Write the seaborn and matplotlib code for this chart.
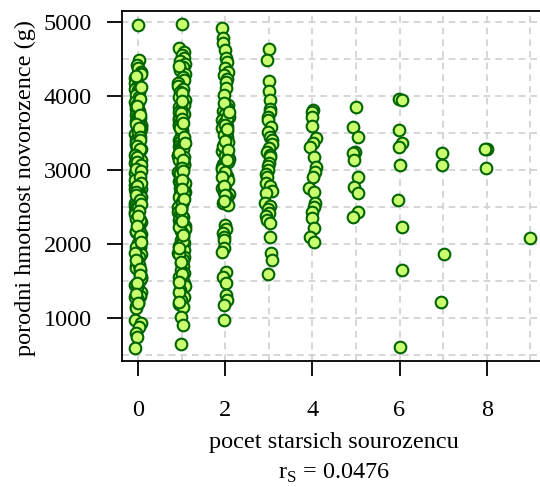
import numpy as np
import pandas as pd
import seaborn as sns
import matplotlib
matplotlib.use("Agg")
import matplotlib.pyplot as plt
import matplotlib.transforms as mtransforms

# porodni hmotnost (g) podle poctu starsich sourozencu
w0 = [4960, 4490, 4420, 4380, 4330, 4300, 4250, 4210, 4180, 4150, 4100, 4080, 4050, 4010,
      3990, 3950, 3920, 3900, 3870, 3850, 3830, 3800, 3780, 3750, 3730, 3700, 3690, 3660,
      3640, 3610, 3600, 3580, 3550, 3530, 3500, 3490, 3470, 3440, 3420, 3400, 3380, 3350,
      3340, 3310, 3300, 3280, 3250, 3230, 3200, 3190, 3170, 3150, 3120, 3100, 3080, 3060,
      3040, 3010, 3000, 2980, 2950, 2930, 2900, 2880, 2850, 2820, 2800, 2770, 2750, 2720,
      2700, 2680, 2650, 2610, 2580, 2550, 2520, 2490, 2460, 2430, 2400, 2370, 2340, 2300,
      2270, 2230, 2200, 2160, 2130, 2090, 2050, 2010, 1980, 1940, 1900, 1860, 1820, 1780,
      1750, 1710, 1680, 1640, 1600, 1560, 1520, 1490, 1450, 1400, 1350, 1300, 1250, 1200,
      1160, 1130, 980, 940, 880, 800, 750, 600,
      4270, 3960, 3710, 3520, 3360, 3260, 3140, 3050, 2960, 2860, 2740, 2630, 2500, 2320,
      2180, 1960, 1720, 1540, 1420, 1280,
      4120, 3860, 3740, 3620, 3570, 3450, 3410, 3330, 3290, 3210, 3180, 3110, 3070, 3020,
      2990, 2910, 2830, 2790, 2710, 2660, 2590, 2540, 2450, 2380, 2250, 2110, 2030, 1880,
      1790, 1660, 1580, 1480, 1330, 1210]
w1 = [4970, 4650, 4600, 4560, 4520, 4480, 4430, 4390, 4350, 4300, 4260, 4220, 4170, 4130,
      4100, 4060, 4020, 3990, 3950, 3920, 3880, 3850, 3820, 3790, 3760, 3730, 3700, 3680,
      3650, 3620, 3590, 3560, 3540, 3510, 3480, 3460, 3430, 3400, 3380, 3350, 3320, 3300,
      3270, 3240, 3210, 3190, 3160, 3130, 3100, 3080, 3050, 3020, 3000, 2970, 2940, 2910,
      2880, 2850, 2820, 2790, 2760, 2730, 2700, 2670, 2640, 2600, 2570, 2540, 2500, 2470,
      2430, 2400, 2360, 2330, 2290, 2250, 2210, 2180, 2140, 2100, 2060, 2010, 1970, 1920,
      1880, 1830, 1790, 1740, 1700, 1650, 1610, 1560, 1520, 1470, 1430, 1380, 1330, 1280,
      1240, 1190, 1150, 1010, 905, 650,
      4040, 3770, 3570, 3410, 3290, 3180, 3070, 2960, 2830, 2690, 2550, 2380, 2230, 2040,
      1860, 1590, 1350,
      4410, 3930, 3690, 3630, 3450, 3370, 3230, 3140, 3030, 2990, 2870, 2750, 2610, 2480,
      2310, 2120, 1950, 1760, 1490, 1220]
w2 = [4920, 4790, 4720, 4620, 4510, 4460, 4380, 4330, 4280, 4230, 4190, 4110, 4020, 3880,
      3840, 3800, 3760, 3720, 3680, 3640, 3600, 3570, 3530, 3490, 3450, 3410, 3380, 3340,
      3300, 3260, 3230, 3190, 3150, 3110, 3080, 3040, 3000, 2960, 2920, 2880, 2840, 2800,
      2760, 2720, 2680, 2640, 2600, 2560, 2530, 2260, 2210, 2150, 2100, 2050, 1950, 1890,
      1620, 1560, 1480, 1310, 1250, 1180, 975,
      3700, 3470, 3320, 3170, 3020, 2860, 2700,
      3910, 3780, 3610, 3550, 3390, 3270, 3130, 2980, 2900, 2790, 2660, 2580]
w3 = [4640, 4490, 4200, 4070, 3950, 3830, 3780, 3720, 3680, 3580, 3520, 3450, 3400, 3350,
      3300, 3250, 3200, 3170, 3100, 3050, 3000, 2950, 2910, 2830, 2780, 2720, 2690, 2560,
      2520, 2470, 2420, 2380, 2330, 2290, 2100, 1880, 1790, 1600]
w4 = [3810, 3790, 3720, 3600, 3430, 3370, 3310, 3180, 3040, 2980, 2910, 2760, 2700, 2560,
      2500, 2430, 2350, 2220, 2100, 2030]
w5 = [3850, 3580, 3450, 3240, 3230, 3140, 2910, 2770, 2690, 2430, 2370]
w6 = [3960, 3950, 3540, 3370, 3310, 3070, 2600, 2230, 1650, 610]
w7 = [3230, 3070, 1865, 1215]
w8 = [3290, 3280, 3030]
w9 = [2080]

x_ticks = [0, 2, 4, 6, 8]
y_ticks = [1000, 2000, 3000, 4000, 5000]
rs_text = "r$_\\mathregular{S}$ = 0.0476"

groups = [w0, w1, w2, w3, w4, w5, w6, w7, w8, w9]
df = pd.DataFrame({
    "sourozenci": np.concatenate([[k] * len(g) for k, g in enumerate(groups)]),
    "hmotnost": np.concatenate(groups),
})

serif = ["Liberation Serif", "DejaVu Serif"]
sns.set_theme(style="white")
plt.rcParams.update({
    "font.family": serif,
    "mathtext.fontset": "custom",
    "mathtext.rm": "Liberation Serif",
    "axes.edgecolor": "black", "axes.linewidth": 1.3,
})
fs = 17.5

fig = plt.figure(figsize=(5.4, 4.87), dpi=100)
ax = fig.add_axes([0.2265, 0.2595, 0.7846, 0.7173])

# mrizka po 1 a po 500, carkovane
for gx in np.arange(0, 10):
    ax.axvline(gx, color="#CFCFCF", linestyle=(0, (4, 3)), linewidth=1.2, zorder=0)
for gy in np.arange(500, 5001, 500):
    ax.axhline(gy, color="#CFCFCF", linestyle=(0, (4, 3)), linewidth=1.2, zorder=0)

np.random.seed(3)
sns.stripplot(data=df, x="sourozenci", y="hmotnost", native_scale=True, jitter=0.08,
              color="#CAFF70", edgecolor="#006400", linewidth=1.5, size=8.4, ax=ax, zorder=3)

ax.set_xlim(-0.36, 9.36)
ax.set_ylim(425, 5145)
ax.set_xticks(x_ticks)
ax.set_yticks(y_ticks)
ax.spines["right"].set_visible(False)

# ticky a jejich popisky kreslene primo (vestavene vypnute)
ax.tick_params(axis="both", which="both", length=0, labelbottom=False, labelleft=False)
ty = mtransforms.blended_transform_factory(ax.transAxes, ax.transData)
tx = mtransforms.blended_transform_factory(ax.transData, ax.transAxes)
for v in y_ticks:
    ax.plot([-0.0354, 0], [v, v], transform=ty, color="black", lw=1.3,
            clip_on=False, solid_capstyle="butt", zorder=5)
    ax.text(-0.0715, v, str(v), transform=ty, ha="right", va="center_baseline",
            fontsize=fs, color="black", family=serif)
for v in x_ticks:
    ax.plot([v, v], [-0.0429, 0], transform=tx, color="black", lw=1.3,
            clip_on=False, solid_capstyle="butt", zorder=5)
    ax.text(v, -0.113, str(v), transform=tx, ha="center", va="top",
            fontsize=fs, color="black", family=serif)

ax.set_xlabel("pocet starsich sourozencu", fontsize=fs, color="black", family=serif)
ax.set_ylabel("porodni hmotnost novorozence (g)", fontsize=fs, color="black", family=serif)
ax.xaxis.set_label_coords(0.5, -0.203)
ax.yaxis.set_label_coords(-0.204, 0.494)
fig.text(0.618, 0.017, rs_text, fontsize=fs, ha="center", va="baseline", color="black",
         family=serif)

fig.savefig("out.png", dpi=100)
